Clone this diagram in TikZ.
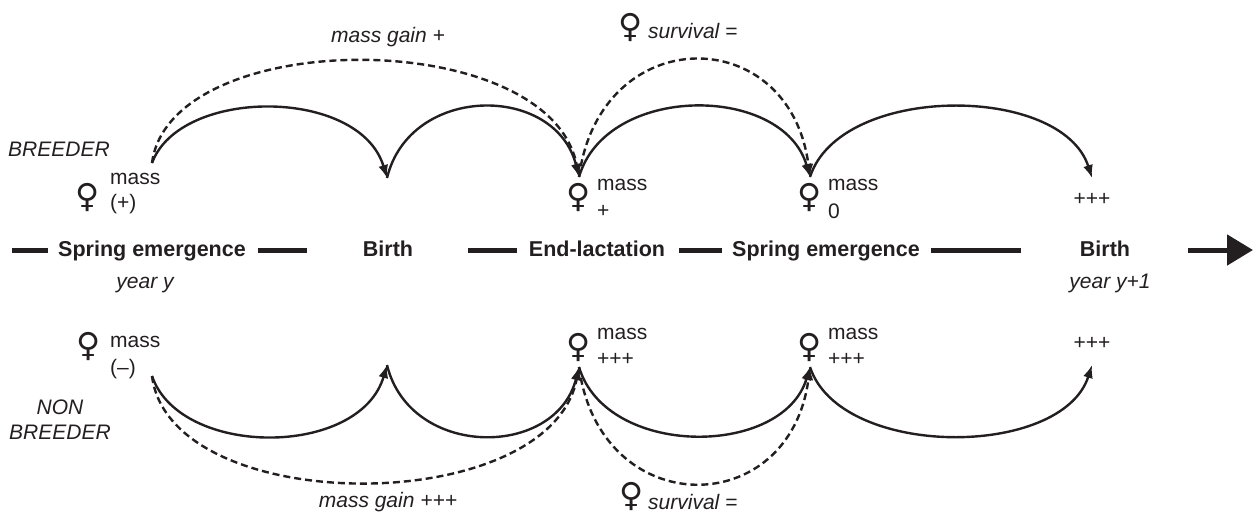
\documentclass[tikz,border=0pt]{standalone}
\usepackage{fontspec}
\setmainfont{Liberation Sans}
\newfontfamily\symfont{DejaVu Sans}
\usetikzlibrary{arrows.meta}
\definecolor{ink}{HTML}{231F20}
\begin{document}
\begin{tikzpicture}[x=1pt,y=-1pt,
  every node/.style={text=ink, inner sep=0pt},
  lbl/.style={font=\fontsize{21}{25}\selectfont, anchor=base},
  lblw/.style={lbl, anchor=base west},
  stage/.style={lbl, font=\fontsize{21.5}{25}\selectfont\bfseries},
  ital/.style={lbl, font=\fontsize{21}{25}\selectfont\itshape},
  italw/.style={ital, anchor=base west},
  fem/.style={font=\fontsize{33}{33}\symfont, anchor=center},
  arc/.style={draw=ink, line width=2.4pt, -{Latex[length=13pt,width=10pt]}},
  darc/.style={arc, dash pattern=on 7pt off 4pt},
  tbar/.style={draw=ink, line width=5pt}
]
\useasboundingbox (0,0) rectangle (1253,512);

% timeline
\node[stage] (se1) at (152,256) {Spring emergence};
\node[stage] (b1) at (388,256) {Birth};
\node[stage] (el) at (597,256) {End-lactation};
\node[stage] (se2) at (826,256) {Spring emergence};
\node[stage] (b2) at (1105,256) {Birth};
\node[ital] (yy) at (145,288) {year y};
\node[ital] (yy1) at (1110,288) {year y+1};

\coordinate (l1a) at (12,250);   \coordinate (l1b) at (48,250);
\coordinate (l2a) at (258,250);  \coordinate (l2b) at (307,250);
\coordinate (l3a) at (468,250);  \coordinate (l3b) at (517,250);
\coordinate (l4a) at (679,250);  \coordinate (l4b) at (722,250);
\coordinate (l5a) at (931,250);  \coordinate (l5b) at (1021,250);
\coordinate (l6a) at (1188,250); \coordinate (l6b) at (1253,250);
\draw[tbar] (l1a) -- (l1b);
\draw[tbar] (l2a) -- (l2b);
\draw[tbar] (l3a) -- (l3b);
\draw[tbar] (l4a) -- (l4b);
\draw[tbar] (l5a) -- (l5b);
\draw[tbar, -{Triangle[length=26pt,width=30pt]}] (l6a) -- (l6b);

% group labels
\node[italw] (breeder) at (8,156) {BREEDER};
\node[ital, align=center, font=\fontsize{21}{25}\selectfont\itshape, anchor=center] (nonbreeder) at (60,420) {NON\\BREEDER};

% breeder annotations
\node[fem] (f1) at (88,197) {♀};
\node[lblw] (m1) at (110,184) {mass};
\node[lblw] (v1) at (110,209) {(+)};
\node[fem] (f2) at (579,197) {♀};
\node[lblw] (m2) at (597,190) {mass};
\node[lblw] (v2) at (597,217) {+};
\node[fem] (f3) at (810,197) {♀};
\node[lblw] (m3) at (828,190) {mass};
\node[lblw] (v3) at (828,218) {0};
\node[lbl] (v4) at (1092,205) {+++};

% non-breeder annotations
\node[fem] (g1) at (89,346) {♀};
\node[lblw] (n1) at (110,347) {mass};
\node[lblw] (w1) at (110,374) {(–)};
\node[fem] (g2) at (579,347) {♀};
\node[lblw] (n2) at (597,339) {mass};
\node[lblw] (w2) at (597,365) {+++};
\node[fem] (g3) at (810,347) {♀};
\node[lblw] (n3) at (828,339) {mass};
\node[lblw] (w3) at (828,365) {+++};
\node[lbl] (w4) at (1092,349) {+++};

% top / bottom labels
\node[ital] (mg1) at (388,42) {mass gain +};
\node[fem] (fs1) at (631,27) {♀};
\node[italw] (s1) at (648,38) {survival =};
\node[ital] (mg2) at (388,507) {mass gain +++};
\node[fem] (fs2) at (632,496) {♀};
\node[italw] (s2) at (648,509) {survival =};

% connector end points
\coordinate (tSE1) at (152,163);
\coordinate (tB1) at (387,178);
\coordinate (tEL) at (579,177);
\coordinate (tSE2) at (810,177);
\coordinate (tB2) at (1092,178);
\coordinate (bSE1) at (152,376);
\coordinate (bB1) at (387,365);
\coordinate (bEL) at (579,367);
\coordinate (bSE2) at (810,367);
\coordinate (bB2) at (1092,365);

% breeder arcs
\draw[arc] (tSE1) .. controls (180,87) and (360,87) .. (tB1);
\draw[arc] (tB1) .. controls (410,83.5) and (556,83.5) .. (tEL);
\draw[arc] (tEL) .. controls (606,83.5) and (783,83.5) .. (tSE2);
\draw[arc] (tSE2) .. controls (840,83.5) and (1062,83.5) .. (tB2);
\draw[darc] (tSE1) .. controls (170,25) and (550,25) .. (tEL);
\draw[darc] (tEL) .. controls (600,21) and (790,21) .. (tSE2);

% non-breeder arcs
\draw[arc] (bSE1) .. controls (180,458) and (360,458) .. (bB1);
\draw[arc] (bB1) .. controls (410,459) and (556,459) .. (bEL);
\draw[arc] (bEL) .. controls (606,458) and (783,458) .. (bSE2);
\draw[arc] (bSE2) .. controls (840,459) and (1062,459) .. (bB2);
\draw[darc] (bSE1) .. controls (170,519) and (550,519) .. (bEL);
\draw[darc] (bEL) .. controls (600,522) and (790,522) .. (bSE2);
\end{tikzpicture}
\end{document}
